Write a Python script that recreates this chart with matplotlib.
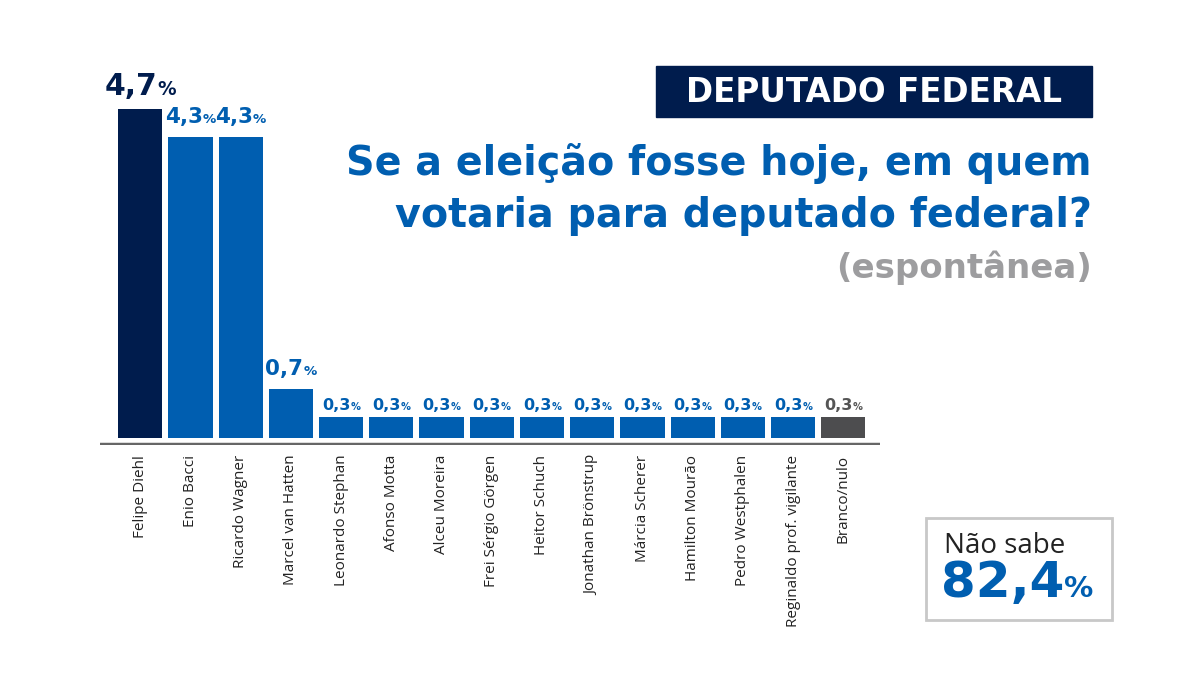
import matplotlib
matplotlib.use("Agg")
import matplotlib.pyplot as plt
from matplotlib.patches import Rectangle

# ── Data ────────────────────────────────────────────────────────────────
names = ["Felipe Diehl", "Enio Bacci", "Ricardo Wagner", "Marcel van Hatten",
         "Leonardo Stephan", "Afonso Motta", "Alceu Moreira", "Frei Sérgio Görgen",
         "Heitor Schuch", "Jonathan Brönstrup", "Márcia Scherer", "Hamilton Mourão",
         "Pedro Westphalen", "Reginaldo prof. vigilante", "Branco/nulo"]
values = [4.7, 4.3, 4.3, 0.7, 0.3, 0.3, 0.3, 0.3, 0.3, 0.3, 0.3, 0.3, 0.3, 0.3, 0.3]
nao_sabe = 82.4

NAVY, BLUE, GRAY = "#001c4d", "#005eb0", "#4d4d4f"
colors = [NAVY] + [BLUE] * 13 + [GRAY]
label_colors = [NAVY] + [BLUE] * 13 + ["#555555"]

HEAVY = ["DejaVu Sans"]
REG = ["Open Sans", "DejaVu Sans"]

fig = plt.figure(figsize=(12, 6.75), dpi=100)
ax = fig.add_axes([100 / 1200, 1 - 445 / 675, 780 / 1200, 357 / 675])

x = list(range(len(values)))
ax.bar(x, values, width=0.88, color=colors)
ax.set_xlim(-0.8, 14.73)
ax.set_ylim(-0.1, 5.0)
ax.axhline(-0.08, color="#666666", linewidth=2.5)
for s in ax.spines.values():
    s.set_visible(False)
ax.set_yticks([])
ax.set_xticks(x)
ax.set_xticklabels(names, rotation=90, va="top", ha="center",
                   fontsize=11, family=REG, color="#222222")
ax.tick_params(axis="x", length=0, pad=7)

# value labels: number + smaller %
fig.canvas.draw()
renderer = fig.canvas.get_renderer()
for xi, v, c in zip(x, values, label_colors):
    big = v >= 0.6
    fs = 21.5 if v > 4.5 else (15.5 if big else 11.5)
    off = 10 if big else 5
    num = ax.annotate(f"{v:.1f}".replace(".", ","), (xi, v), xytext=(0, off),
                      textcoords="offset points", ha="right", va="baseline",
                      fontsize=fs, fontweight="bold", family=HEAVY, color=c)
    pct = ax.annotate("%", (xi, v), xytext=(0, off), textcoords="offset points",
                      ha="left", va="baseline", fontsize=fs * 0.62,
                      fontweight="bold", family=HEAVY, color=c)
    wn = num.get_window_extent(renderer).width
    wp = pct.get_window_extent(renderer).width
    shift = (wn - wp) / 2 * 72 / fig.dpi
    num.xyann = (shift, off)
    pct.xyann = (shift, off)

# ── Header ───────────────────────────────────────────────────────────────
fig.patches.append(Rectangle((656 / 1200, 1 - 117 / 675), 436 / 1200, 51 / 675,
                             transform=fig.transFigure, color=NAVY))
fig.text(874 / 1200, 1 - 92 / 675, "DEPUTADO FEDERAL", ha="center", va="center",
         fontsize=23.5, fontweight="bold", family=HEAVY, color="white")
fig.text(1092 / 1200, 1 - 175 / 675, "Se a eleição fosse hoje, em quem",
         ha="right", va="baseline", fontsize=28.5, fontweight="bold",
         family=HEAVY, color=BLUE)
fig.text(1092 / 1200, 1 - 227 / 675, "votaria para deputado federal?",
         ha="right", va="baseline", fontsize=28.5, fontweight="bold",
         family=HEAVY, color=BLUE)
fig.text(1092 / 1200, 1 - 278 / 675, "(espontânea)",
         ha="right", va="baseline", fontsize=24.5, fontweight="bold",
         family=HEAVY, color="#9d9d9f")

# ── Não sabe box ─────────────────────────────────────────────────────────
fig.patches.append(Rectangle((926 / 1200, 1 - 620 / 675), 186 / 1200, 102 / 675,
                             transform=fig.transFigure, facecolor="white",
                             edgecolor="#c8c8c8", linewidth=2))
fig.text(944 / 1200, 1 - 553 / 675, "Não sabe", ha="left", va="baseline",
         fontsize=20, family=REG, color="#222222")
t = fig.text(941 / 1200, 1 - 597 / 675, f"{nao_sabe:.1f}".replace(".", ","),
             ha="left", va="baseline", fontsize=36, fontweight="bold",
             family=HEAVY, color=BLUE)
fig.canvas.draw()
bb = t.get_window_extent(fig.canvas.get_renderer())
fig.text(bb.x1 / fig.bbox.width, 1 - 597 / 675, "%", ha="left",
         va="baseline", fontsize=21, fontweight="bold", family=HEAVY, color=BLUE)

fig.savefig("out.png", dpi=100)
